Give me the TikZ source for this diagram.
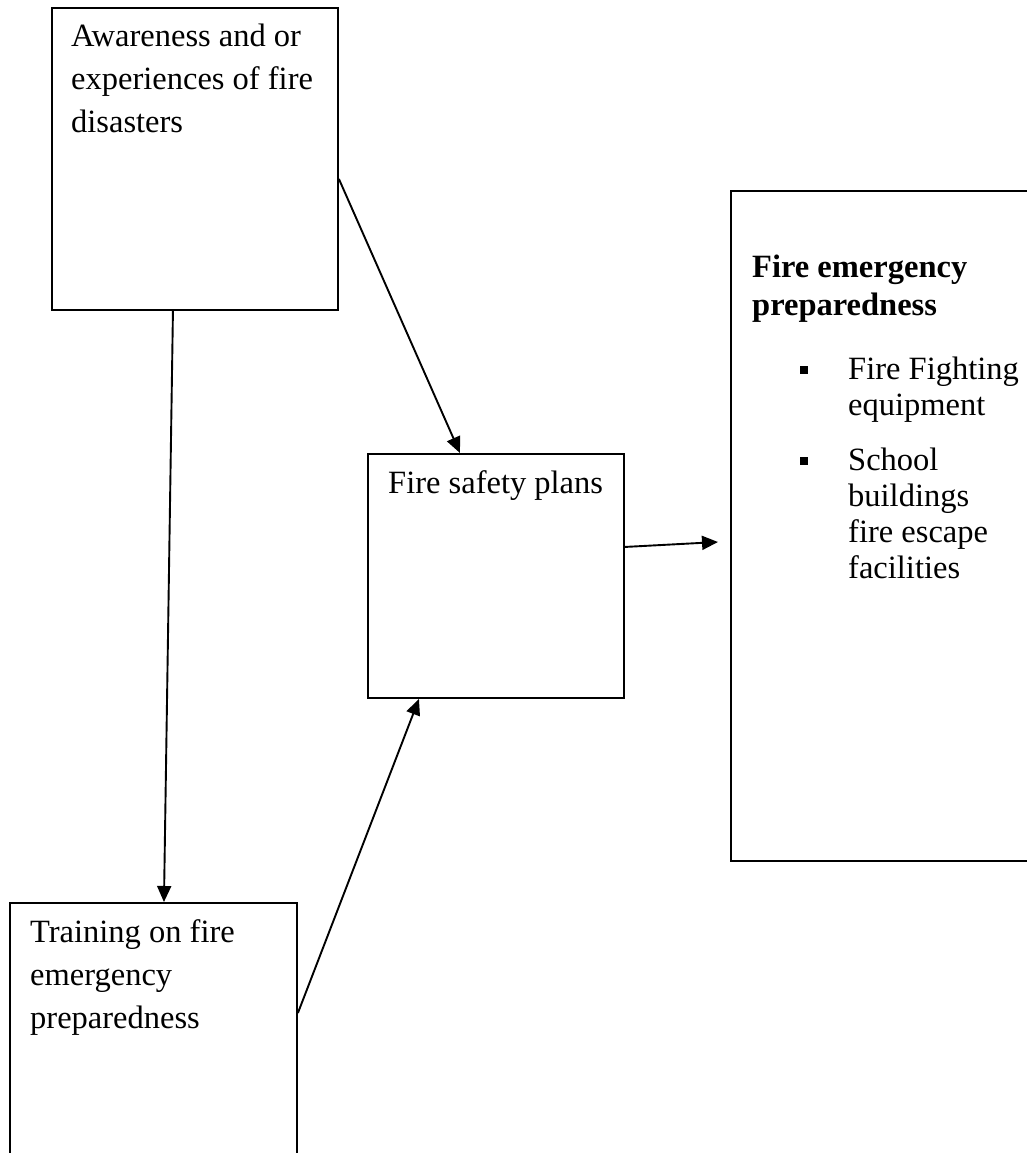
\documentclass[tikz,border=0pt]{standalone}
\usepackage{fontspec}
\setmainfont{Liberation Serif}
\usetikzlibrary{positioning,arrows.meta}

\newcommand{\boxlines}[2][43]{\parbox[t]{9cm}{\raggedright\fontsize{32.5}{#1}\selectfont #2}}

\tikzset{
  box/.style={draw=black, line width=1.9pt, rectangle, anchor=north west, inner sep=0pt},
  boxtext/.style={inner sep=0pt, anchor=base west},
  bullet/.style={fill=black, rectangle, minimum size=8pt, inner sep=0pt},
  arr/.style={line width=1.9pt, -{Triangle[length=16pt,width=14pt]}}
}

\begin{document}
\begin{tikzpicture}[x=1pt, y=-1pt]
  \useasboundingbox (0,0) rectangle (1027,1153);

  % boxes
  \node[box, minimum width=286pt, minimum height=302pt] (aware) at (51,7) {};
  \node[box, minimum width=287pt, minimum height=300pt] (train) at (9,902) {};
  \node[box, minimum width=256pt, minimum height=244pt] (safety) at (367,453) {};
  \node[box, minimum width=320pt, minimum height=670pt] (prep) at (730,190) {};

  % texts
  \node[boxtext] (awaretext) at ([shift={(20pt,-40pt)}]aware.north west)
    {\boxlines{Awareness and or\\experiences of fire\\disasters}};
  \node[boxtext] (traintext) at ([shift={(21pt,-40pt)}]train.north west)
    {\boxlines{Training on fire\\emergency\\preparedness}};
  \node[boxtext] (safetytext) at ([shift={(21pt,-40pt)}]safety.north west)
    {\boxlines{Fire safety plans}};
  \node[boxtext] (preptext) at ([shift={(22pt,-87pt)}]prep.north west)
    {\boxlines[38]{\bfseries Fire emergency\\preparedness}};

  \node[boxtext] (item1) at (848,379) {\boxlines[36]{Fire Fighting\\equipment}};
  \node[boxtext] (item2) at (848,470) {\boxlines[36]{School\\buildings\\fire escape\\facilities}};
  \node[bullet] (dot1) at (804,370) {};
  \node[bullet] (dot2) at (804,461) {};

  % arrows
  \coordinate (tip) at (718,542);
  \draw[arr] ([yshift=-20pt]aware.east) -- ([xshift=-36pt]safety.north);
  \draw[arr] ([xshift=-22pt]aware.south) -- ([xshift=10.5pt]train.north);
  \draw[arr] ([yshift=-111pt]train.north east) -- ([xshift=-77pt]safety.south);
  \draw[arr] ([yshift=29pt]safety.east) -- (tip);
\end{tikzpicture}
\end{document}
